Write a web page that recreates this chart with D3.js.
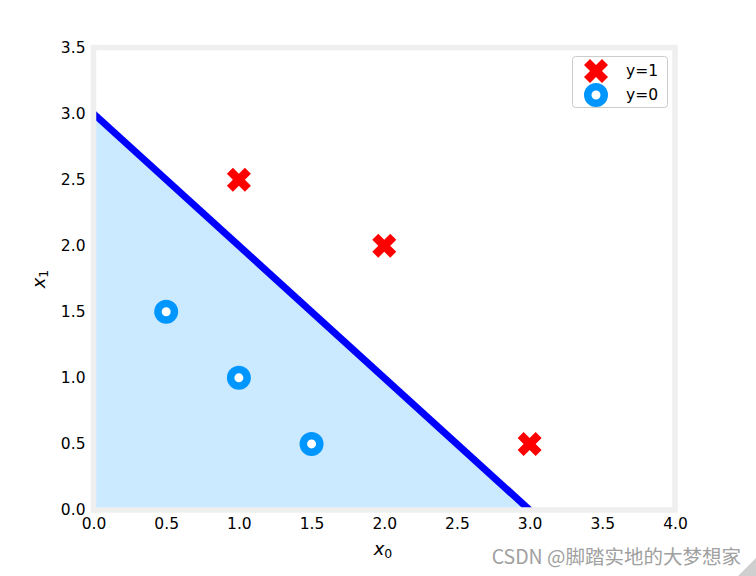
<!DOCTYPE html>
<html><head><meta charset="utf-8">
<script src="https://cdn.jsdelivr.net/npm/d3@7"></script>
<style>body{margin:0;background:#fff;} svg{display:block;font-family:"DejaVu Sans",sans-serif;}</style>
</head><body>
<svg id="c" width="756" height="576"></svg>
<script>
const posX0 = [1, 2, 3];
const posX1 = [2.5, 2, 0.5];
const negX0 = [0.5, 1, 1.5];
const negX1 = [1.5, 1, 0.5];
const boundaryX0 = [0, 3];
const boundaryX1 = [3, 0];
const xTicks = [0, 0.5, 1, 1.5, 2, 2.5, 3, 3.5, 4];
const yTicks = [0, 0.5, 1, 1.5, 2, 2.5, 3, 3.5];
const legendLabels = ["y=1", "y=0"];

const svg = d3.select("#c");
const x = d3.scaleLinear().domain([0, 4]).range([93.5, 675]);
const y = d3.scaleLinear().domain([0, 3.5]).range([510, 47.5]);

svg.append("defs").append("clipPath").attr("id","clip").append("rect")
  .attr("x", x(0)).attr("y", y(3.5)).attr("width", x(4)-x(0)).attr("height", y(0)-y(3.5));

const plot = svg.append("g").attr("clip-path","url(#clip)");
const bpts = boundaryX0.map((v,i)=>[v, boundaryX1[i]]);
plot.append("path")
  .attr("d", d3.area().x(d=>x(d[0])).y0(y(0)).y1(d=>y(d[1]))(bpts))
  .attr("fill","#cceaff");
// extend boundary line slightly beyond axes so clipping gives square ends
const slope = (boundaryX1[1]-boundaryX1[0])/(boundaryX0[1]-boundaryX0[0]);
const ext = [[boundaryX0[0]-0.2, boundaryX1[0]-0.2*slope],[boundaryX0[1]+0.2, boundaryX1[1]+0.2*slope]];
plot.append("path")
  .attr("d", d3.line().x(d=>x(d[0])).y(d=>y(d[1]))(ext))
  .attr("fill","none").attr("stroke","#0000ff").attr("stroke-width",7);

// frame spines
svg.append("rect").attr("x", x(0)).attr("y", y(3.5)).attr("width", x(4)-x(0)).attr("height", y(0)-y(3.5))
  .attr("fill","none").attr("stroke","#efefef").attr("stroke-width",5.5);

// axes
const xa = svg.append("g").attr("transform",`translate(0,${y(0)})`)
  .call(d3.axisBottom(x).tickValues(xTicks).tickFormat(d3.format(".1f")).tickSize(0).tickPadding(8));
xa.select(".domain").remove();
xa.attr("font-family","DejaVu Sans").attr("font-size",null);
xa.selectAll("text").style("font-size","15.5px").attr("fill","#000");
const ya = svg.append("g").attr("transform",`translate(${x(0)},0)`)
  .call(d3.axisLeft(y).tickValues(yTicks).tickFormat(d3.format(".1f")).tickSize(0).tickPadding(8));
ya.select(".domain").remove();
ya.attr("font-family","DejaVu Sans").attr("font-size",null);
ya.selectAll("text").style("font-size","15.5px").attr("fill","#000");

// markers
function xMarker(g, cx, cy, s){
  const pts = [[-0.25,-0.5],[0,-0.25],[0.25,-0.5],[0.5,-0.25],[0.25,0],[0.5,0.25],[0.25,0.5],[0,0.25],[-0.25,0.5],[-0.5,0.25],[-0.25,0],[-0.5,-0.25]];
  g.append("path").attr("d", d3.line()(pts.map(p=>[cx+p[0]*s, cy+p[1]*s]))+"Z").attr("fill","#ff0000");
}
function oMarker(g, cx, cy){
  g.append("circle").attr("cx",cx).attr("cy",cy).attr("r",8.25).attr("fill","#fff").attr("stroke","#0096ff").attr("stroke-width",7.5);
}
const mk = svg.append("g");
posX0.forEach((v,i)=>xMarker(mk, x(v), y(posX1[i]), 24));
negX0.forEach((v,i)=>oMarker(mk, x(v), y(negX1[i])));

// legend
const lg = svg.append("g");
lg.append("rect").attr("x",572.5).attr("y",56.5).attr("width",95).attr("height",51).attr("rx",3)
  .attr("fill","#fff").attr("fill-opacity",0.8).attr("stroke","#cccccc").attr("stroke-width",1);
xMarker(lg, 596, 71, 24);
oMarker(lg, 596, 95);
lg.selectAll("text.l").data(legendLabels).join("text").attr("class","l")
  .attr("x",626).attr("y",(d,i)=>76+i*24).style("font-size","15.5px").text(d=>d);

// axis labels
const xl = svg.append("text").attr("x",383).attr("y",555).attr("text-anchor","middle").style("font-size","18px");
xl.append("tspan").attr("font-style","italic").text("x");
xl.append("tspan").style("font-size","12.5px").attr("dy",3).text("0");
const yl = svg.append("text").attr("transform","translate(45,279) rotate(-90)").attr("text-anchor","middle").style("font-size","18px");
yl.append("tspan").attr("font-style","italic").text("x");
yl.append("tspan").style("font-size","12.5px").attr("dy",3).text("1");

// watermark
svg.append("path").attr("d","M756,558 L756,576 L738,576 Z").attr("fill","#cfcfcf");
svg.append("text").attr("x",741).attr("y",564).attr("text-anchor","end").style("font-size","19.5px")
  .attr("font-family","'Noto Sans CJK SC', sans-serif").attr("fill","#a0a0a0").text("CSDN @脚踏实地的大梦想家");
</script>
</body></html>
